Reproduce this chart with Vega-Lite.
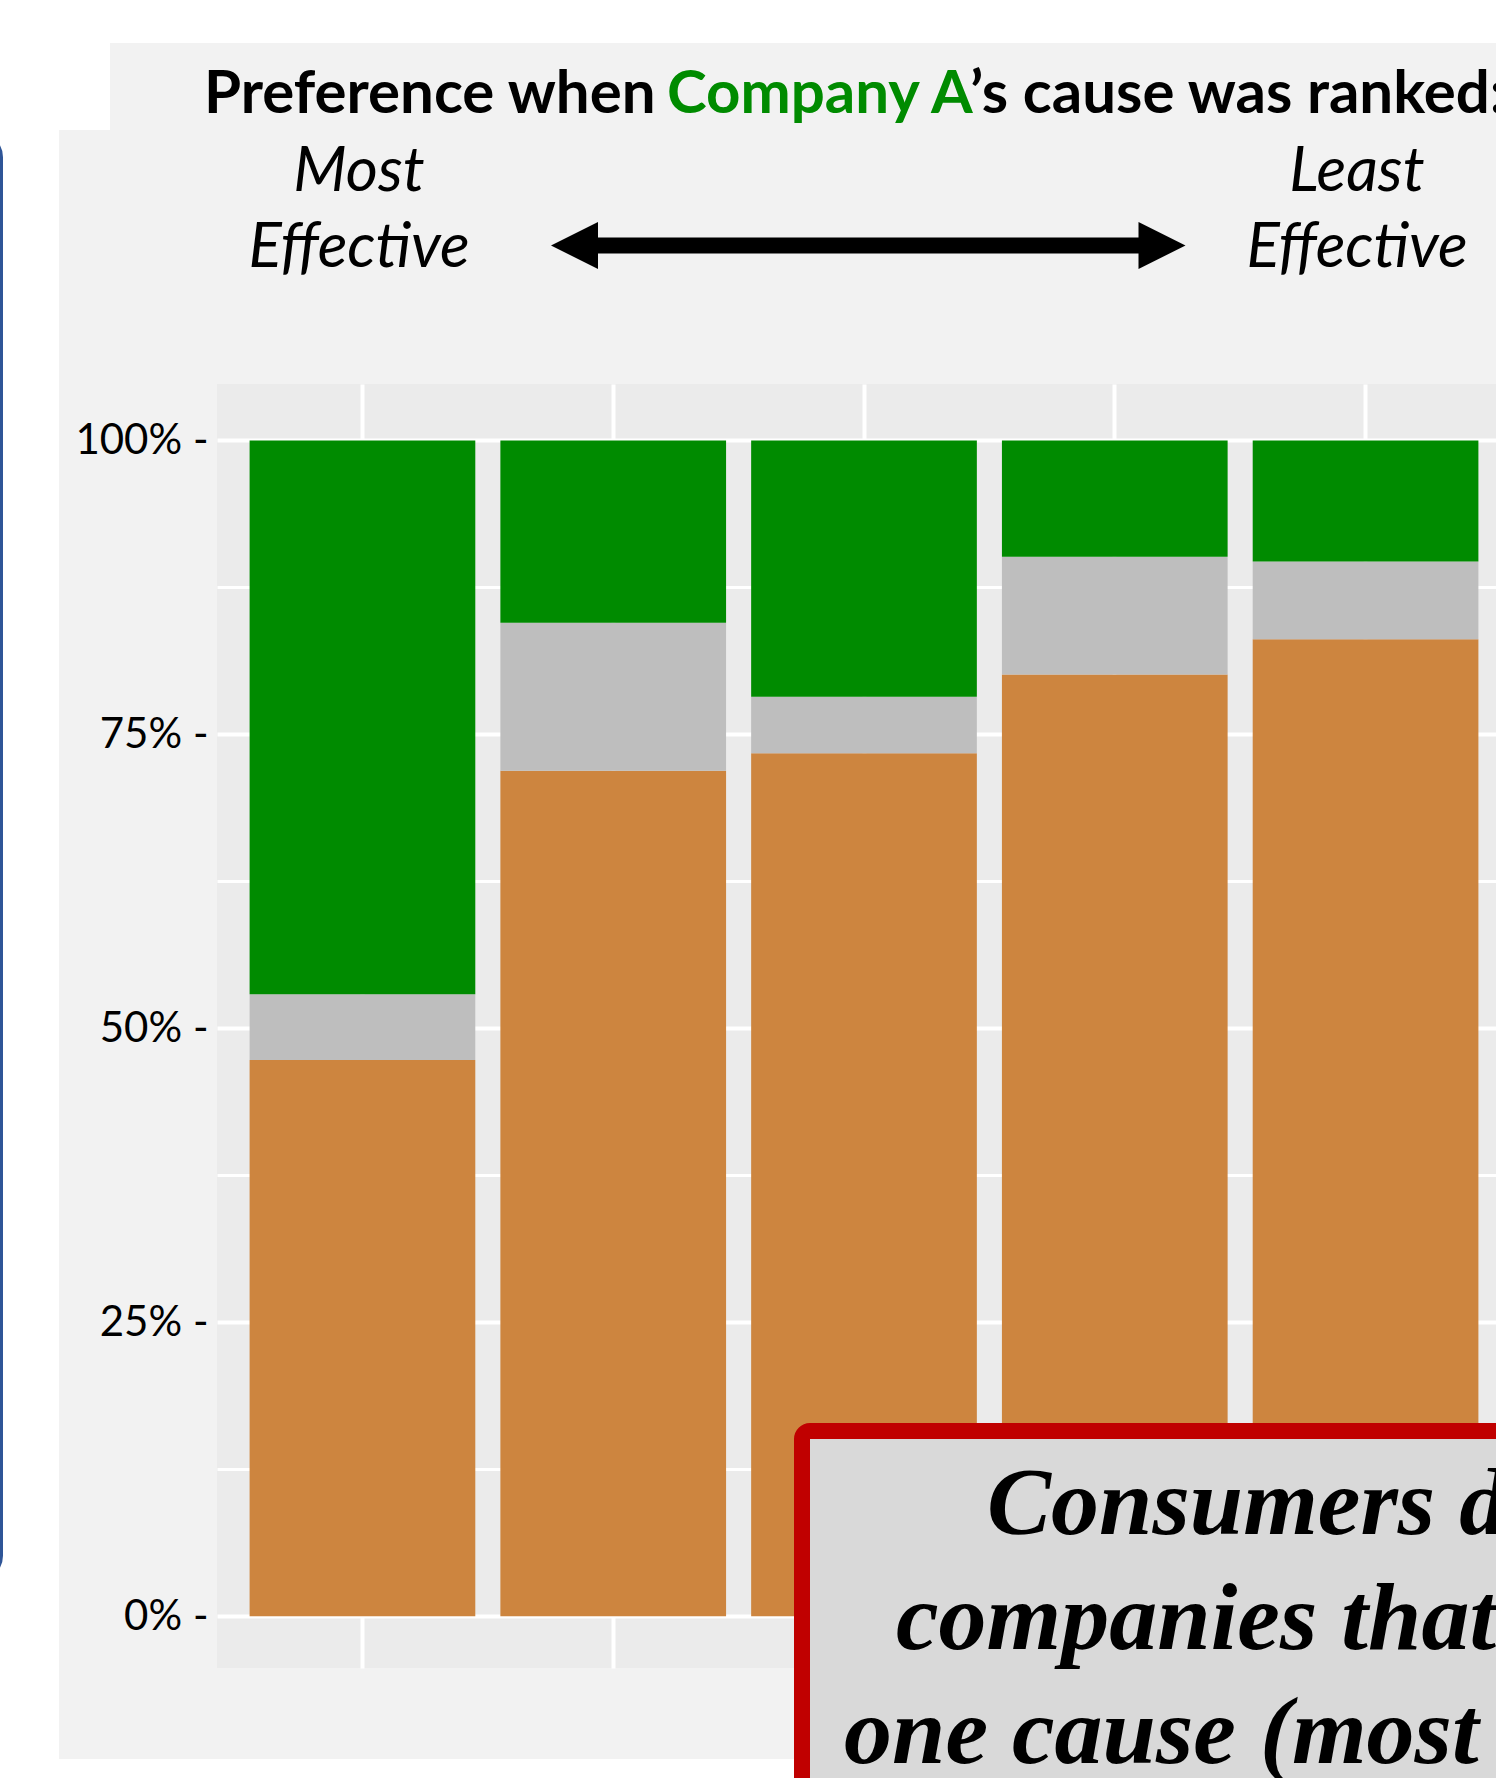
{
  "$schema": "https://vega.github.io/schema/vega-lite/v6.json",
  "width": 1279,
  "height": 1284,
  "autosize": {"type": "none"},
  "padding": {"left": 217, "top": 384, "right": 0, "bottom": 110},
  "background": "#f2f2f2",
  "config": {"view": {"fill": "#ebebeb", "stroke": null}},
  "layer": [
    {"data": {"values": [{}]}, "mark": {"type": "rect", "x": -217, "x2": 1279, "y": -384, "y2": -341, "fill": "white"}, "encoding": {}},
    {"data": {"values": [{}]}, "mark": {"type": "rect", "x": -217, "x2": -107, "y": -341, "y2": -254, "fill": "white"}, "encoding": {}},
    {"data": {"values": [{}]}, "mark": {"type": "rect", "x": -217, "x2": -158, "y": -254, "y2": 1394, "fill": "white"}, "encoding": {}},
    {"data": {"values": [{}]}, "mark": {"type": "rect", "x": -217, "x2": 1279, "y": 1375, "y2": 1394, "fill": "white"}, "encoding": {}},
    {"data": {"values": [{}]}, "mark": {"type": "rect", "x": -262, "x2": -215.5, "y": -250, "y2": 1195, "fill": null, "stroke": "#2f5597", "strokeWidth": 3, "cornerRadius": 25}, "encoding": {}},
    {
      "data": {"values": [
        {"rank": "1", "preference": "Company B", "lean": -1, "share": 0.473},
        {"rank": "1", "preference": "Indifferent", "lean": 0, "share": 0.056},
        {"rank": "1", "preference": "Company A", "lean": 1, "share": 0.471},
        {"rank": "2", "preference": "Company B", "lean": -1, "share": 0.719},
        {"rank": "2", "preference": "Indifferent", "lean": 0, "share": 0.126},
        {"rank": "2", "preference": "Company A", "lean": 1, "share": 0.155},
        {"rank": "3", "preference": "Company B", "lean": -1, "share": 0.734},
        {"rank": "3", "preference": "Indifferent", "lean": 0, "share": 0.048},
        {"rank": "3", "preference": "Company A", "lean": 1, "share": 0.218},
        {"rank": "4", "preference": "Company B", "lean": -1, "share": 0.801},
        {"rank": "4", "preference": "Indifferent", "lean": 0, "share": 0.100},
        {"rank": "4", "preference": "Company A", "lean": 1, "share": 0.099},
        {"rank": "5", "preference": "Company B", "lean": -1, "share": 0.831},
        {"rank": "5", "preference": "Indifferent", "lean": 0, "share": 0.066},
        {"rank": "5", "preference": "Company A", "lean": 1, "share": 0.103}
      ]},
      "mark": {"type": "bar"},
      "encoding": {
        "x": {
          "field": "rank", "type": "ordinal",
          "scale": {"range": [0, 1294], "paddingInner": 0.1, "paddingOuter": 0.13},
          "axis": {"labels": false, "ticks": false, "domain": false, "title": null, "grid": true, "gridColor": "white", "gridWidth": 4}
        },
        "y": {
          "field": "share", "type": "quantitative", "stack": "zero",
          "scale": {"domain": [-0.044, 1.048], "nice": false, "zero": false},
          "axis": {
            "values": [0, 0.125, 0.25, 0.375, 0.5, 0.625, 0.75, 0.875, 1],
            "format": ".0%",
            "labelExpr": "(datum.value * 4) % 1 == 0 ? datum.label + ' -' : ''",
            "grid": true, "gridColor": "white",
            "gridWidth": {"condition": {"test": "(datum.value * 4) % 1 == 0", "value": 4}, "value": 3},
            "ticks": false, "domain": false, "title": null,
            "labelFont": "Lato", "labelFontSize": 42, "labelColor": "black",
            "labelPadding": 9, "labelOverlap": false, "labelFlush": false
          }
        },
        "color": {
          "field": "preference", "type": "nominal",
          "scale": {"domain": ["Company B", "Indifferent", "Company A"], "range": ["#cd853f", "#bebebe", "#008b00"]},
          "legend": null
        },
        "order": {"field": "lean", "type": "quantitative", "sort": "ascending"}
      }
    },
    {"data": {"values": [{}]}, "mark": {"type": "rect", "x": 585, "x2": 1500, "y": 1047, "y2": 1500, "fill": "#d9d9d9", "stroke": "#c00000", "strokeWidth": 16, "cornerRadius": 8}, "encoding": {}},
    {"data": {"values": [{}]}, "mark": {"type": "text", "text": "Consumers d", "x": 770, "y": 1150, "align": "left", "baseline": "alphabetic", "font": "Liberation Serif", "fontSize": 96, "fontWeight": "bold", "fontStyle": "italic", "color": "black"}, "encoding": {}},
    {"data": {"values": [{}]}, "mark": {"type": "text", "text": "companies that", "x": 679, "y": 1265, "align": "left", "baseline": "alphabetic", "font": "Liberation Serif", "fontSize": 96, "fontWeight": "bold", "fontStyle": "italic", "color": "black"}, "encoding": {}},
    {"data": {"values": [{}]}, "mark": {"type": "text", "text": "one cause (most", "x": 627, "y": 1379, "align": "left", "baseline": "alphabetic", "font": "Liberation Serif", "fontSize": 96, "fontWeight": "bold", "fontStyle": "italic", "color": "black"}, "encoding": {}},
    {"data": {"values": [{}]}, "mark": {"type": "text", "text": "Preference when ", "x": -13, "y": -271, "align": "left", "baseline": "alphabetic", "font": "Lato", "fontSize": 60, "fontWeight": "bold", "color": "black"}, "encoding": {}},
    {"data": {"values": [{}]}, "mark": {"type": "text", "text": "Company A", "x": 450, "y": -271, "align": "left", "baseline": "alphabetic", "font": "Lato", "fontSize": 60, "fontWeight": "bold", "color": "#008b00"}, "encoding": {}},
    {"data": {"values": [{}]}, "mark": {"type": "text", "text": "’s cause was ranked:", "x": 753, "y": -271, "align": "left", "baseline": "alphabetic", "font": "Lato", "fontSize": 60, "fontWeight": "bold", "color": "black"}, "encoding": {}},
    {"data": {"values": [{}]}, "mark": {"type": "text", "text": ["Most", "Effective"], "x": 142, "y": -193, "align": "center", "baseline": "alphabetic", "lineHeight": 76, "font": "Lato", "fontSize": 62, "fontStyle": "italic", "color": "black"}, "encoding": {}},
    {"data": {"values": [{}]}, "mark": {"type": "text", "text": ["Least", "Effective"], "x": 1140, "y": -193, "align": "center", "baseline": "alphabetic", "lineHeight": 76, "font": "Lato", "fontSize": 62, "fontStyle": "italic", "color": "black"}, "encoding": {}},
    {"data": {"values": [{}]}, "mark": {"type": "rect", "x": 378, "x2": 924, "y": -146.5, "y2": -130.5, "fill": "black"}, "encoding": {}},
    {"data": {"values": [{}]}, "mark": {"type": "point", "shape": "M-1,0L1,-1L1,1Z", "x": 357.5, "y": -138.5, "size": 2209, "filled": true, "fill": "black", "opacity": 1, "strokeWidth": 0}, "encoding": {}},
    {"data": {"values": [{}]}, "mark": {"type": "point", "shape": "M1,0L-1,-1L-1,1Z", "x": 945, "y": -138.5, "size": 2209, "filled": true, "fill": "black", "opacity": 1, "strokeWidth": 0}, "encoding": {}}
  ]
}
